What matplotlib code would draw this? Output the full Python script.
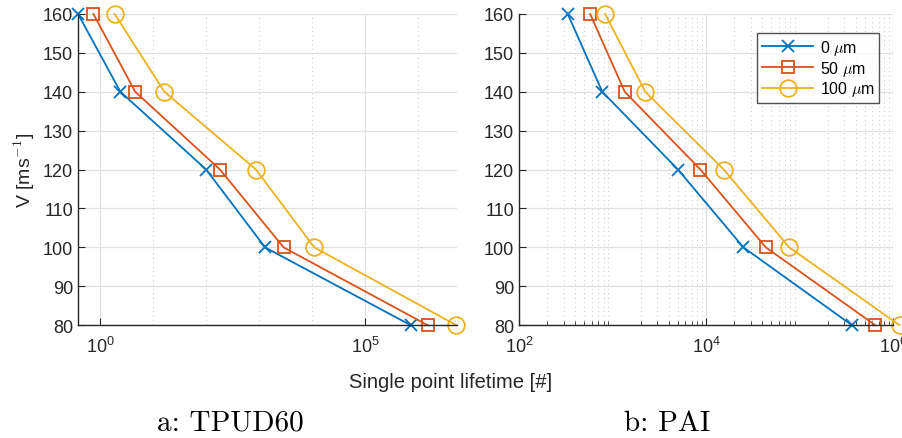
import numpy as np
import matplotlib
matplotlib.use("Agg")
import matplotlib.pyplot as plt
import matplotlib.ticker as ticker

plt.rcParams['font.family'] = ['Liberation Sans', 'DejaVu Sans']
plt.rcParams['mathtext.fontset'] = 'cm'
plt.rcParams['axes.unicode_minus'] = False

# velocity levels [m/s]
speed = [160, 140, 120, 100, 80]
labels = ['0 $\\mu$m', '50 $\\mu$m', '100 $\\mu$m']

# single point lifetime (log10 values)
tpud_0 = [-0.42, 0.38, 2.0, 3.11, 5.86]
tpud_50 = [-0.13, 0.66, 2.26, 3.46, 6.18]
tpud_100 = [0.27, 1.21, 2.94, 4.04, 6.72]

pai_0 = [2.52, 2.89, 3.70, 4.40, 5.56]
pai_50 = [2.76, 3.13, 3.94, 4.64, 5.81]
pai_100 = [2.92, 3.35, 4.19, 4.89, 6.07]

colors = ['#0072BD', '#D95319', '#EDB120']
markers = [('x', 8), ('s', 9), ('o', 12)]
axcol = '#262626'

fig = plt.figure(figsize=(9.02, 4.39), dpi=100)
ax1 = fig.add_axes([0.0865, 0.257, 0.4205, 0.709])
ax2 = fig.add_axes([0.5755, 0.257, 0.4145, 0.709])


def style(ax):
    ax.set_xscale('log')
    ax.set_ylim(80, 160)
    ax.set_yticks(range(80, 161, 10))
    for s in ['top', 'right']:
        ax.spines[s].set_visible(False)
    for s in ['left', 'bottom']:
        ax.spines[s].set_color(axcol)
        ax.spines[s].set_linewidth(1.0)
    ax.tick_params(which='both', direction='in', colors=axcol, labelsize=13)
    ax.tick_params(which='major', length=5)
    ax.tick_params(which='minor', length=3)
    ax.tick_params(axis='x', pad=8)
    ax.grid(True, which='major', color='#e0e0e0', linewidth=0.9, linestyle='-')
    ax.grid(True, which='minor', color='#d0d0d0', linewidth=0.8, linestyle=(0, (1, 3)))
    ax.set_axisbelow(True)


series1 = [tpud_0, tpud_50, tpud_100]
series2 = [pai_0, pai_50, pai_100]
for i in range(3):
    m, ms = markers[i]
    ax1.plot(10 ** np.array(series1[i]), speed, color=colors[i], marker=m, ms=ms,
             mfc='none', mew=1.3, lw=1.3, clip_on=False, label=labels[i])
    ax2.plot(10 ** np.array(series2[i]), speed, color=colors[i], marker=m, ms=ms,
             mfc='none', mew=1.3, lw=1.3, clip_on=False, label=labels[i])

style(ax1)
style(ax2)

ax1.set_xlim(10 ** -0.42, 10 ** 6.74)
ax1.xaxis.set_major_locator(ticker.FixedLocator([1, 1e5]))
ax1.xaxis.set_minor_locator(ticker.LogLocator(base=10, subs=(1.0,), numticks=20))
ax1.xaxis.set_minor_formatter(ticker.NullFormatter())
ax1.tick_params(which='minor', length=0)

ax2.set_xlim(1e2, 1e6)
ax2.xaxis.set_major_locator(ticker.FixedLocator([1e2, 1e4, 1e6]))
ax2.xaxis.set_minor_locator(ticker.LogLocator(base=10, subs=np.arange(2, 10) * 1.0, numticks=20))
ax2.xaxis.set_minor_formatter(ticker.NullFormatter())

ax1.set_ylabel('V [ms$^{\\mathsf{-1}}$]', fontsize=14, color=axcol)
fig.text(0.5, 0.128, 'Single point lifetime [#]', ha='center', va='center',
         fontsize=14.5, color=axcol)

leg = ax2.legend(loc='upper right', bbox_to_anchor=(0.985, 0.965), fontsize=11.5,
                 frameon=True, fancybox=False, edgecolor='#262626', handlelength=3.2,
                 borderpad=0.3, labelspacing=0.12, handletextpad=0.4)
leg.get_frame().set_linewidth(1.0)

fig.text(0.255, 0.035, 'a: TPUD60', ha='center', va='center', fontsize=21, family='cmr10')
fig.text(0.74, 0.035, 'b: PAI', ha='center', va='center', fontsize=21, family='cmr10')

fig.savefig('out.png', dpi=100)
